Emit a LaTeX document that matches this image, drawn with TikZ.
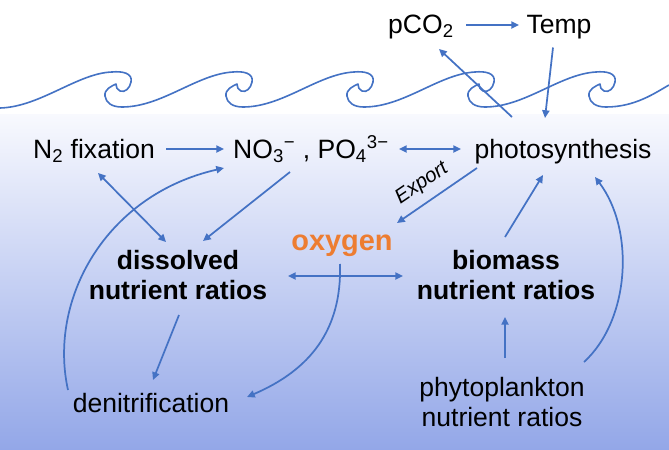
\documentclass[tikz,border=0pt]{standalone}
\usepackage{fontspec}
\setmainfont{Liberation Sans}
\usetikzlibrary{arrows.meta,calc}
\definecolor{lineblue}{RGB}{68,114,196}
\definecolor{oxyorange}{RGB}{237,125,49}
\definecolor{seatop}{RGB}{248,249,254}
\definecolor{seabottom}{RGB}{147,167,232}
\tikzset{
  conn/.style={draw=lineblue, line width=1.3pt},
  arr/.style={conn, -{Triangle[length=5.8pt,width=5.4pt]}},
  darr/.style={conn, {Triangle[length=5.8pt,width=5.4pt]}-{Triangle[length=5.8pt,width=5.4pt]}},
  wave/.style={draw=lineblue, line width=1.2pt, line join=round},
  lbl/.style={font=\fontsize{19.9}{22.5}\selectfont, inner sep=0pt, text=black},
  mlbl/.style={lbl, align=center},
  blbl/.style={lbl, font=\fontsize{19.9}{22.5}\selectfont\bfseries, align=center},
  olbl/.style={lbl, font=\fontsize{21.7}{26}\selectfont\bfseries, text=oxyorange},
  elbl/.style={lbl, font=\fontsize{15.3}{18}\selectfont\itshape},
}
\begin{document}
\begin{tikzpicture}[x=0.75pt,y=-0.75pt]
\useasboundingbox (0,0) rectangle (669,450);
\fill[white] (0,0) rectangle (669,450);
\shade[top color=seatop, bottom color=seabottom] (0,114) rectangle (669,450);

% wave
\draw[wave] (0,108) .. controls (40,107) and (78,73) .. (112,72)
  \foreach \c in {117,238,359,480} {
    .. controls ({\c+5},71) and ({\c+16},73) .. ({\c+14},82)
    .. controls ({\c+13},88) and ({\c+8},93) .. ({\c+3},91)
    .. controls ({\c},90) and ({\c-1},87) .. ({\c-1},84)
    .. controls ({\c-5},86) and ({\c-13},89) .. ({\c-12},96)
    .. controls ({\c-11},103) and ({\c-5},107) .. ({\c+5},107)
    .. controls ({\c+45},107) and ({\c+80},74) .. ({\c+116},72)
  }
  .. controls (606,71) and (617,73) .. (615,82)
  .. controls (614,88) and (609,93) .. (604,91)
  .. controls (601,90) and (600,87) .. (600,84)
  .. controls (596,86) and (588,89) .. (589,96)
  .. controls (590,103) and (596,107) .. (606,107)
  .. controls (635,107) and (655,93) .. (669,85);

% nodes
\node[lbl, anchor=base] (pco2) at (421,33.5) {pCO\textsubscript{2}};
\node[lbl, anchor=base] (temp) at (559,33.5) {Temp};
\node[lbl, anchor=base] (n2) at (94,158.5) {N\textsubscript{2} fixation};
\node[lbl, anchor=base] (no3) at (311,158.5) {NO\textsubscript{3}\textsuperscript{−} , PO\textsubscript{4}\textsuperscript{3−}};
\node[lbl, anchor=base] (photo) at (563,158.5) {photosynthesis};
\node[olbl, anchor=base] (oxy) at (342,250.5) {oxygen};
\node[blbl] (diss) at (178,275.3) {dissolved\\nutrient ratios};
\node[blbl] (bio) at (506,275.3) {biomass\\nutrient ratios};
\node[lbl, anchor=base] (denit) at (151,412) {denitrification};
\node[mlbl] (phyto) at (502,402) {phytoplankton\\nutrient ratios};
\node[elbl, rotate=34] (exportlbl) at (422,183.5) {Export};

\coordinate (seaco2) at (512,117);
\coordinate (seatemp) at (545,118);

% connectors
\draw[arr] ($(pco2.base)+(45,-8.5)$) -- ($(temp.base)+(-40,-8.5)$);
\draw[arr] (seaco2) -- ($(pco2.base)+(18,15.5)$);
\draw[arr] ($(temp.base)+(-6,14)$) -- (seatemp);
\draw[arr] ($(n2.base)+(72,-9.5)$) -- ($(no3.base)+(-87,-9.5)$);
\draw[darr] ($(no3.base)+(88,-9.5)$) -- ($(photo.base)+(-102,-9.5)$);
\draw[darr] ($(n2.base)+(4,14.5)$) -- ($(diss)+(-12,-33.3)$);
\draw[arr] ($(no3.base)+(-21,13.5)$) -- ($(diss)+(25,-34.3)$);
\draw[arr] ($(denit.base)+(-83,-22)$) .. controls (48,300) and (105,195) .. ($(no3.base)+(-87,9.5)$);
\draw[arr] ($(photo.base)+(-86,9.5)$) -- ($(oxy.base)+(55,-27.5)$);
\draw[darr] ($(diss)+(110,0.7)$) -- ($(bio)+(-103,0.7)$);
\draw[arr] ($(bio)+(-1,-38.3)$) -- ($(photo.base)+(-20,16.5)$);
\draw[arr] ($(phyto)+(3,-44)$) -- ($(bio)+(-1,41.7)$);
\draw[arr] ($(phyto)+(82,-40)$) .. controls (630,320) and (635,230) .. ($(photo.base)+(32,18.5)$);
\draw[arr] ($(diss)+(1,39.7)$) -- ($(denit.base)+(2,-32)$);
\draw[arr] ($(oxy.base)+(-2,13.5)$) .. controls (342,330) and (310,370) .. ($(denit.base)+(96,-15)$);
\end{tikzpicture}
\end{document}
